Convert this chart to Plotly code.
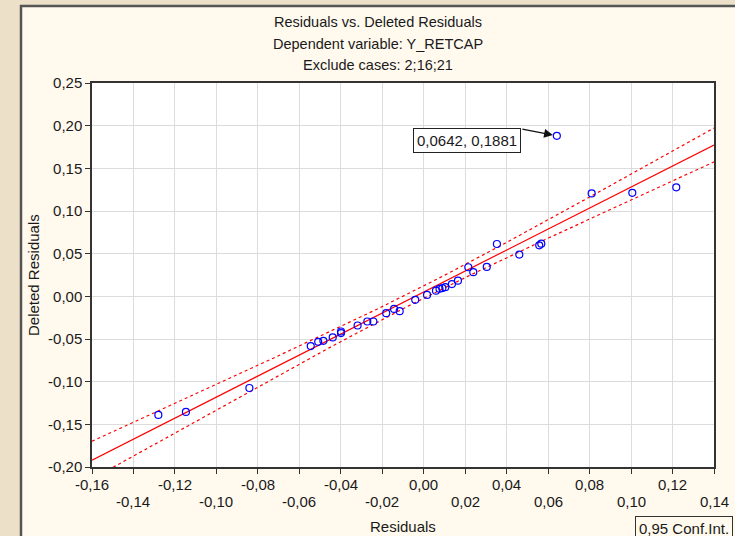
import numpy as np
import plotly.graph_objects as go

# ---------------- data ----------------
residuals = [-0.1280, -0.1147, -0.0841, -0.0545, -0.0509, -0.0484, -0.0439, -0.0399,
             -0.0399, -0.0319, -0.0272, -0.0243, -0.0181, -0.0143, -0.0116, -0.0041,
             0.0016, 0.0059, 0.0076, 0.0090, 0.0104, 0.0136, 0.0165, 0.0215,
             0.0239, 0.0304, 0.0353, 0.0461, 0.0557, 0.0567, 0.0642, 0.0810,
             0.1006, 0.1218]
deleted_residuals = [-0.1390, -0.1355, -0.1074, -0.0583, -0.0533, -0.0521, -0.0482, -0.0412,
                     -0.0431, -0.0342, -0.0295, -0.0295, -0.0197, -0.0148, -0.0174, -0.0041,
                     0.0017, 0.0066, 0.0088, 0.0097, 0.0107, 0.0144, 0.0183, 0.0341,
                     0.0283, 0.0345, 0.0613, 0.0489, 0.0598, 0.0617, 0.1881, 0.1206,
                     0.1213, 0.1277]

x_tick_vals = [-0.16, -0.14, -0.12, -0.10, -0.08, -0.06, -0.04, -0.02,
               0.00, 0.02, 0.04, 0.06, 0.08, 0.10, 0.12, 0.14]
x_tick_text = ["-0,16", "-0,14", "-0,12", "-0,10", "-0,08", "-0,06", "-0,04", "-0,02",
               "0,00", "0,02", "0,04", "0,06", "0,08", "0,10", "0,12", "0,14"]
y_tick_vals = [-0.20, -0.15, -0.10, -0.05, 0.00, 0.05, 0.10, 0.15, 0.20, 0.25]
y_tick_text = ["-0,20", "-0,15", "-0,10", "-0,05", "0,00", "0,05", "0,10", "0,15", "0,20", "0,25"]

callout_index = 30
callout_text = "0,0642, 0,1881"
title_lines = ["Residuals vs. Deleted Residuals",
               "Dependent variable: Y_RETCAP",
               "Exclude cases: 2;16;21"]
x_title = "Residuals"
y_title = "Deleted Residuals"
legend_text = "0,95 Conf.Int."
t_crit = 2.0369  # t(0.975, n-2)

# ---------------- regression + 95% band ----------------
x = np.array(residuals)
y = np.array(deleted_residuals)
n = len(x)
slope, intercept = np.polyfit(x, y, 1)
resid = y - (intercept + slope * x)
s = np.sqrt(np.sum(resid ** 2) / (n - 2))
xbar = x.mean()
sxx = np.sum((x - xbar) ** 2)
xg = np.linspace(x_tick_vals[0], x_tick_vals[-1], 200)
yfit = intercept + slope * xg
half = t_crit * s * np.sqrt(1.0 / n + (xg - xbar) ** 2 / sxx)

FONT = "Liberation Sans, Arial, sans-serif"
TXT = "#1a1a1a"

fig = go.Figure()
fig.add_trace(go.Scatter(x=xg, y=yfit, mode="lines",
                         line=dict(color="#ff0000", width=1.2), hoverinfo="skip"))
fig.add_trace(go.Scatter(x=xg, y=yfit + half, mode="lines",
                         line=dict(color="#ff0000", width=1.2, dash="3px,3px"), hoverinfo="skip"))
fig.add_trace(go.Scatter(x=xg, y=yfit - half, mode="lines",
                         line=dict(color="#ff0000", width=1.2, dash="3px,3px"), hoverinfo="skip"))
fig.add_trace(go.Scatter(x=residuals, y=deleted_residuals, mode="markers",
                         marker=dict(symbol="circle-open", size=7, color="#0000ff",
                                     line=dict(color="#0000ff", width=1.2))))

L, R, T, B = 92, 21, 83, 69
W, H = 735, 536
pw, ph = W - L - R, H - T - B


def px(xp):
    return (xp - L) / pw


def py(yp):
    return (H - B - yp) / ph


annotations = []
for i, line in enumerate(title_lines):
    annotations.append(dict(text=line, xref="paper", yref="paper", x=px(378),
                            y=py([22, 44, 65.5][i]), xanchor="center", yanchor="middle",
                            showarrow=False, font=dict(family=FONT, size=14.5, color=TXT)))
for i, (v, t) in enumerate(zip(x_tick_vals, x_tick_text)):
    annotations.append(dict(text=t, xref="x", yref="paper", x=v, y=0,
                            yshift=-17 if i % 2 == 0 else -34.5, xanchor="center",
                            yanchor="middle", showarrow=False,
                            font=dict(family=FONT, size=15, color=TXT)))
annotations.append(dict(text=x_title, xref="paper", yref="paper", x=px(403), y=py(526.5),
                        xanchor="center", yanchor="middle", showarrow=False,
                        font=dict(family=FONT, size=15, color=TXT)))
annotations.append(dict(text=y_title, xref="paper", yref="paper", x=px(33), y=py(275),
                        xanchor="center", yanchor="middle", textangle=-90, showarrow=False,
                        font=dict(family=FONT, size=15, color=TXT)))
# callout box
annotations.append(dict(text=callout_text, xref="x", yref="y",
                        x=residuals[callout_index], y=deleted_residuals[callout_index],
                        xshift=-90, yshift=-5, xanchor="center", yanchor="middle",
                        showarrow=False, bgcolor="#ffffff", bordercolor="#222222",
                        borderwidth=1, borderpad=3,
                        font=dict(family=FONT, size=15, color=TXT)))
# callout arrow
annotations.append(dict(text="", xref="x", yref="y",
                        x=residuals[callout_index], y=deleted_residuals[callout_index],
                        ax=-36, ay=-7, showarrow=True, arrowhead=2, arrowsize=1.6,
                        arrowwidth=1.1, arrowcolor="#111111", standoff=4))
# legend box
annotations.append(dict(text=legend_text, xref="paper", yref="paper", x=px(684), y=py(528.5),
                        xanchor="center", yanchor="middle", showarrow=False,
                        bgcolor="#fff9ee", bordercolor="#333333", borderwidth=1, borderpad=3,
                        font=dict(family=FONT, size=15, color=TXT)))

shapes = [
    dict(type="rect", xref="paper", yref="paper", x0=px(21), x1=px(740), y0=py(545), y1=py(6),
         line=dict(color="#555555", width=2.5), fillcolor="#fff9ee", layer="below"),
    dict(type="rect", xref="paper", yref="paper", x0=0, x1=1, y0=0, y1=1,
         line=dict(width=0), fillcolor="#ffffff", layer="below"),
]

axis_common = dict(showline=True, linecolor="#333333", linewidth=1.5, zeroline=False,
                   tickcolor="#333333", tickfont=dict(family=FONT, size=15, color=TXT))

fig.update_layout(
    width=W, height=H, margin=dict(l=L, r=R, t=T, b=B),
    paper_bgcolor="#ece0c8", plot_bgcolor="#ffffff",
    showlegend=False,
    xaxis=dict(range=[x_tick_vals[0], x_tick_vals[-1]], tickvals=x_tick_vals,
               showticklabels=False, ticks="outside", ticklen=5, showgrid=True,
               gridcolor="#dcdcdc", gridwidth=1, mirror=True, **axis_common),
    yaxis=dict(range=[y_tick_vals[0], y_tick_vals[-1]], tickvals=y_tick_vals,
               ticktext=y_tick_text, ticks="outside", ticklen=5, showgrid=True,
               gridcolor="#dcdcdc", gridwidth=1, mirror=True, **axis_common),
    xaxis2=dict(overlaying="x", side="top", anchor="y", range=[x_tick_vals[0], x_tick_vals[-1]],
                tickvals=x_tick_vals, showticklabels=False, ticks="inside", ticklen=4,
                tickcolor="#333333", showgrid=False, showline=False, zeroline=False),
    yaxis2=dict(overlaying="y", side="right", anchor="x", range=[y_tick_vals[0], y_tick_vals[-1]],
                tickvals=y_tick_vals, showticklabels=False, ticks="inside", ticklen=4,
                tickcolor="#333333", showgrid=False, showline=False, zeroline=False),
    annotations=annotations, shapes=shapes,
)

fig.write_html("out.html", config={"displayModeBar": False},
               post_script="document.body.style.margin='0';document.body.style.padding='0';")
